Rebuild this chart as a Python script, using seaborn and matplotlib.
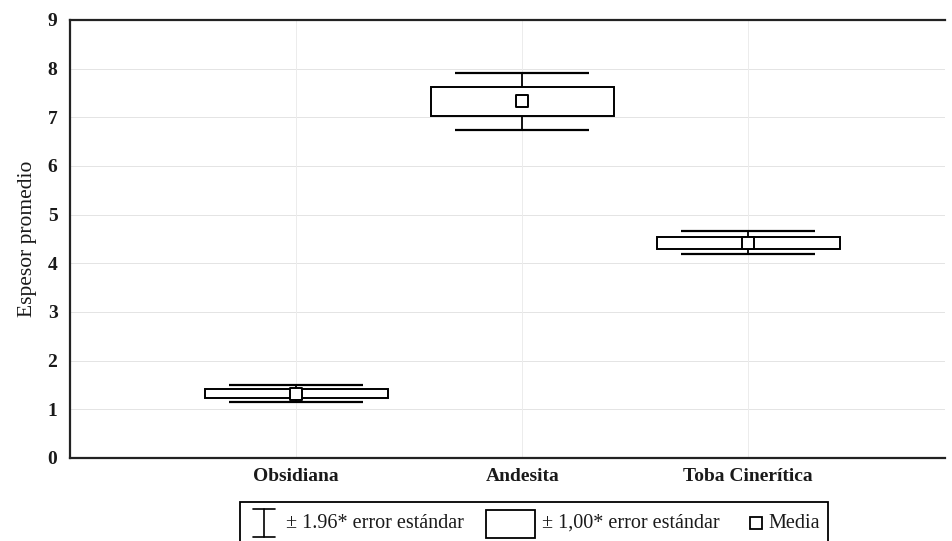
import numpy as np
import pandas as pd
import seaborn as sns
import matplotlib.pyplot as plt
from matplotlib.patches import Rectangle
from matplotlib.lines import Line2D

# Espesor promedio por tipo de roca: media y error estándar
categorias = ["Obsidiana", "Andesita", "Toba Cinerítica"]
medias = [1.32, 7.33, 4.42]
error_estandar = [0.09, 0.30, 0.12]
y_ticks = [0, 1, 2, 3, 4, 5, 6, 7, 8, 9]

df = pd.DataFrame({"tipo": categorias, "media": medias, "ee": error_estandar})
df["pos"] = np.arange(len(df))

sns.set_theme(style="white")
plt.rcParams["font.family"] = ["Liberation Serif", "DejaVu Serif"]

W, H = 952, 541
fig = plt.figure(figsize=(W / 100, H / 100), dpi=100)
ax = fig.add_axes([70 / W, 1 - 458 / H, 875 / W, 438 / H])

# rejilla tenue
for v in y_ticks[1:-1]:
    ax.axhline(v, color="#e4e4e4", lw=0.7, zorder=0)
for p in df["pos"]:
    ax.axvline(p, color="#ececec", lw=0.7, zorder=0)

# ± 1.96 * error estándar
ax.errorbar(df["pos"], df["media"], yerr=1.96 * df["ee"], fmt="none",
            ecolor="black", elinewidth=1.3, capsize=48, capthick=1.6, zorder=2)

# ± 1.00 * error estándar
ax.bar(df["pos"], 2 * df["ee"], bottom=df["media"] - df["ee"], width=0.81,
       color="white", edgecolor="black", linewidth=1.4, zorder=3)

# media
sns.scatterplot(data=df, x="pos", y="media", marker="s", s=70, color="white",
                edgecolor="black", linewidth=1.4, zorder=4, ax=ax, legend=False)

ax.set_xlim(-1.0, 2.87)
ax.set_ylim(0, 9)
ax.set_yticks(y_ticks)
ax.set_yticklabels([str(t) for t in y_ticks], fontsize=14, fontweight="bold",
                   color="#1a1a1a")
ax.set_xticks(df["pos"])
ax.set_xticklabels(categorias, fontsize=14, fontweight="bold", color="#1a1a1a")
ax.tick_params(axis="both", length=0)
ax.tick_params(axis="y", pad=9)
ax.tick_params(axis="x", pad=7)
ax.set_xlabel("")
ax.set_ylabel("Espesor promedio", fontsize=15.5, labelpad=8, color="#1a1a1a")

for s in ["left", "bottom", "top"]:
    ax.spines[s].set_color("#222222")
    ax.spines[s].set_linewidth(1.6)
ax.spines["right"].set_visible(False)

# leyenda inferior
def fx(x):
    return x / W

def fy(y):
    return 1 - y / H

fig.patches.append(Rectangle((fx(240), fy(548)), fx(828) - fx(240), fy(502) - fy(548),
                             transform=fig.transFigure, fill=False, edgecolor="black",
                             linewidth=1.3))
yc = 523
fig.lines.append(Line2D([fx(264), fx(264)], [fy(509), fy(537)], transform=fig.transFigure,
                        color="black", lw=1.2))
for yy in (509, 537):
    fig.lines.append(Line2D([fx(253), fx(275)], [fy(yy), fy(yy)], transform=fig.transFigure,
                            color="black", lw=1.2))
fig.text(fx(286), fy(yc), "± 1.96* error estándar", fontsize=14.5, va="center", ha="left",
         color="#1a1a1a")
fig.patches.append(Rectangle((fx(486), fy(538)), fx(535) - fx(486), fy(510) - fy(538),
                             transform=fig.transFigure, fill=False, edgecolor="black",
                             linewidth=1.3))
fig.text(fx(542), fy(yc), "± 1,00* error estándar", fontsize=14.5, va="center", ha="left",
         color="#1a1a1a")
fig.lines.append(Line2D([fx(756)], [fy(yc)], transform=fig.transFigure, marker="s",
                        markersize=8.5, markerfacecolor="white", markeredgecolor="black",
                        markeredgewidth=1.3, linestyle="none"))
fig.text(fx(768), fy(yc), "Media", fontsize=14.5, va="center", ha="left", color="#1a1a1a")

fig.savefig("out.png", dpi=100, facecolor="white")
